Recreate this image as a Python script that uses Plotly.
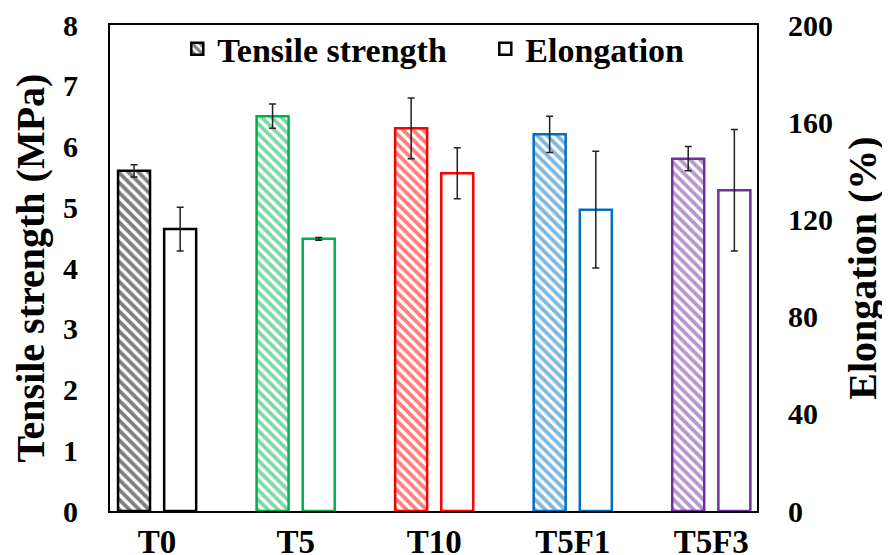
import plotly.graph_objects as go

categories = ["T0", "T5", "T10", "T5F1", "T5F3"]
tensile = [5.6, 6.5, 6.3, 6.2, 5.8]
tensile_err = [0.1, 0.2, 0.5, 0.3, 0.2]
elongation = [116, 112, 139, 124, 132]
elongation_err = [9, 0.6, 10.5, 24, 25]
colors = ["#000000", "#00B050", "#FF0000", "#0070C0", "#7030A0"]

FONT = "Liberation Serif"

fig = go.Figure()
fig.add_trace(go.Bar(
    name="Tensile strength", x=categories, y=tensile,
    offset=-0.282, width=0.231,
    marker=dict(color="white", line=dict(color=colors, width=2.5),
                pattern=dict(shape="\\", fgcolor=colors, bgcolor="white",
                             size=7, solidity=0.55, fillmode="overlay")),
    error_y=dict(type="data", array=tensile_err, color="#222222",
                 thickness=1.5, width=3.5),
    yaxis="y",
))
fig.add_trace(go.Bar(
    name="Elongation", x=categories, y=elongation,
    offset=0.051, width=0.231,
    marker=dict(color="white", line=dict(color=colors, width=2.5)),
    error_y=dict(type="data", array=elongation_err, color="#222222",
                 thickness=1.5, width=3.5),
    yaxis="y2",
))

# page body has an 8px margin; compensate so the plot area lands where the reference has it
fig.update_layout(
    width=882, height=547,
    margin=dict(l=102, r=133, t=17, b=44, autoexpand=False),
    plot_bgcolor="white", paper_bgcolor="white",
    font=dict(family=FONT, color="black", size=32, weight=700),
    showlegend=True,
    legend=dict(orientation="h", x=0.104, y=1.01, xanchor="left", yanchor="top",
                bgcolor="rgba(0,0,0,0)", font=dict(size=34, family=FONT, weight=700),
                entrywidth=263, itemwidth=30),
    xaxis=dict(range=[-0.34, 4.33], showline=True, linecolor="black", linewidth=2,
               mirror=True, ticks="", showgrid=False, automargin=False,
               tickfont=dict(size=33, family=FONT, weight=700)),
    yaxis=dict(range=[0, 8], dtick=1, showline=True, linecolor="black", linewidth=2,
               mirror=True, ticks="", showgrid=False, zeroline=False, automargin=False,
               ticklabelstandoff=24,
               tickfont=dict(size=30, family=FONT, weight=700),
               title=dict(text="Tensile strength (MPa)", standoff=12,
                          font=dict(size=40, family=FONT, weight=700))),
    yaxis2=dict(range=[0, 200], dtick=40, overlaying="y", side="right",
                showline=False, ticks="", showgrid=False, zeroline=False, automargin=False,
                ticklabelstandoff=30,
                tickfont=dict(size=30, family=FONT, weight=700),
                title=dict(text="Elongation (%)", standoff=15,
                           font=dict(size=40, family=FONT, weight=700))),
)

fig.write_html("out.html")
